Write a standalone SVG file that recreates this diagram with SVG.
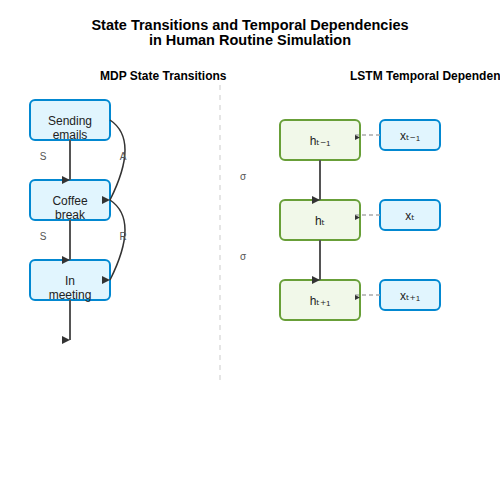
<svg xmlns="http://www.w3.org/2000/svg" width="500" height="500" viewBox="0 0 500 500">
<style>
text{font-family:"Liberation Sans",Arial,"DejaVu Sans",sans-serif;}
.title{font-size:14.5px;font-weight:bold;fill:#000;text-anchor:middle;}
.sub{font-size:12px;font-weight:bold;fill:#000;}
.mdp rect{fill:#e1f5fe;stroke:#0288d1;stroke-width:2;}
.h rect{fill:#f1f8e9;stroke:#689f38;stroke-width:2;}
.x rect{fill:#e1f5fe;stroke:#0288d1;stroke-width:2;}
.nt{font-size:12px;fill:#222;text-anchor:middle;}
.lbl{font-size:10px;fill:#555;text-anchor:middle;}
.solid{stroke:#555;stroke-width:2;fill:none;}
.curve{stroke:#333;stroke-width:1.5;fill:none;}
.dash{stroke:#aaa;stroke-width:1.5;stroke-dasharray:4,3;fill:none;}
</style>
<defs>
<marker id="arr" markerUnits="userSpaceOnUse" markerWidth="8" markerHeight="8" viewBox="0 0 10 10" refX="10" refY="5">
<path d="M0,0 L10,5 L0,10 Z" fill="#333"/>
</marker>
<marker id="arrs" markerUnits="userSpaceOnUse" markerWidth="5" markerHeight="5" viewBox="0 0 10 10" refX="0" refY="0">
<path d="M0,0 L10,5 L0,10 Z" fill="#333"/>
</marker>
</defs>
<rect width="500" height="500" fill="#fff"/>
<text class="title" x="250" y="30">State Transitions and Temporal Dependencies</text>
<text class="title" x="250" y="45">in Human Routine Simulation</text>
<text class="sub" x="100" y="80">MDP State Transitions</text>
<text class="sub" x="350" y="80">LSTM Temporal Dependencies</text>
<line x1="220" y1="85" x2="220" y2="380" stroke="#ddd" stroke-width="1.5" stroke-dasharray="5,5"/>
<g id="sending" class="mdp"><rect x="30" y="100" width="80" height="40" rx="5"/><text class="nt" x="70" y="125">Sending</text><text class="nt" x="70" y="139">emails</text></g>
<g id="coffee" class="mdp"><rect x="30" y="180" width="80" height="40" rx="5"/><text class="nt" x="70" y="205">Coffee</text><text class="nt" x="70" y="219">break</text></g>
<g id="meeting" class="mdp"><rect x="30" y="260" width="80" height="40" rx="5"/><text class="nt" x="70" y="285">In</text><text class="nt" x="70" y="299">meeting</text></g>
<g id="h1" class="h"><rect x="280" y="120" width="80" height="40" rx="5"/><text class="nt" x="320" y="145">hₜ₋₁</text></g>
<g id="h2" class="h"><rect x="280" y="200" width="80" height="40" rx="5"/><text class="nt" x="320" y="225">hₜ</text></g>
<g id="h3" class="h"><rect x="280" y="280" width="80" height="40" rx="5"/><text class="nt" x="320" y="305">hₜ₊₁</text></g>
<g id="x1" class="x"><rect x="380" y="120" width="60" height="30" rx="5"/><text class="nt" x="410" y="140">xₜ₋₁</text></g>
<g id="x2" class="x"><rect x="380" y="200" width="60" height="30" rx="5"/><text class="nt" x="410" y="220">xₜ</text></g>
<g id="x3" class="x"><rect x="380" y="280" width="60" height="30" rx="5"/><text class="nt" x="410" y="300">xₜ₊₁</text></g>
<g id="connectors">
<line class="solid" x1="70" y1="140" x2="70" y2="180" marker-end="url(#arr)"/>
<line class="solid" x1="70" y1="220" x2="70" y2="260" marker-end="url(#arr)"/>
<line class="solid" x1="70" y1="300" x2="70" y2="340" marker-end="url(#arr)"/>
<path class="curve" d="M110,120 Q140,140 110,200" marker-end="url(#arr)"/>
<path class="curve" d="M110,200 Q140,220 110,280" marker-end="url(#arr)"/>
<text class="lbl" x="43" y="160">S</text>
<text class="lbl" x="43" y="240">S</text>
<text class="lbl" x="123" y="160">A</text>
<text class="lbl" x="123" y="240">R</text>
<line class="solid" x1="320" y1="160" x2="320" y2="200" marker-end="url(#arr)"/>
<line class="solid" x1="320" y1="240" x2="320" y2="280" marker-end="url(#arr)"/>
<text class="lbl" x="243" y="180">σ</text>
<text class="lbl" x="243" y="260">σ</text>
<line class="dash" x1="380" y1="135" x2="355" y2="135" marker-end="url(#arrs)"/>
<line class="dash" x1="380" y1="215" x2="355" y2="215" marker-end="url(#arrs)"/>
<line class="dash" x1="380" y1="295" x2="355" y2="295" marker-end="url(#arrs)"/>
</g>
</svg>
